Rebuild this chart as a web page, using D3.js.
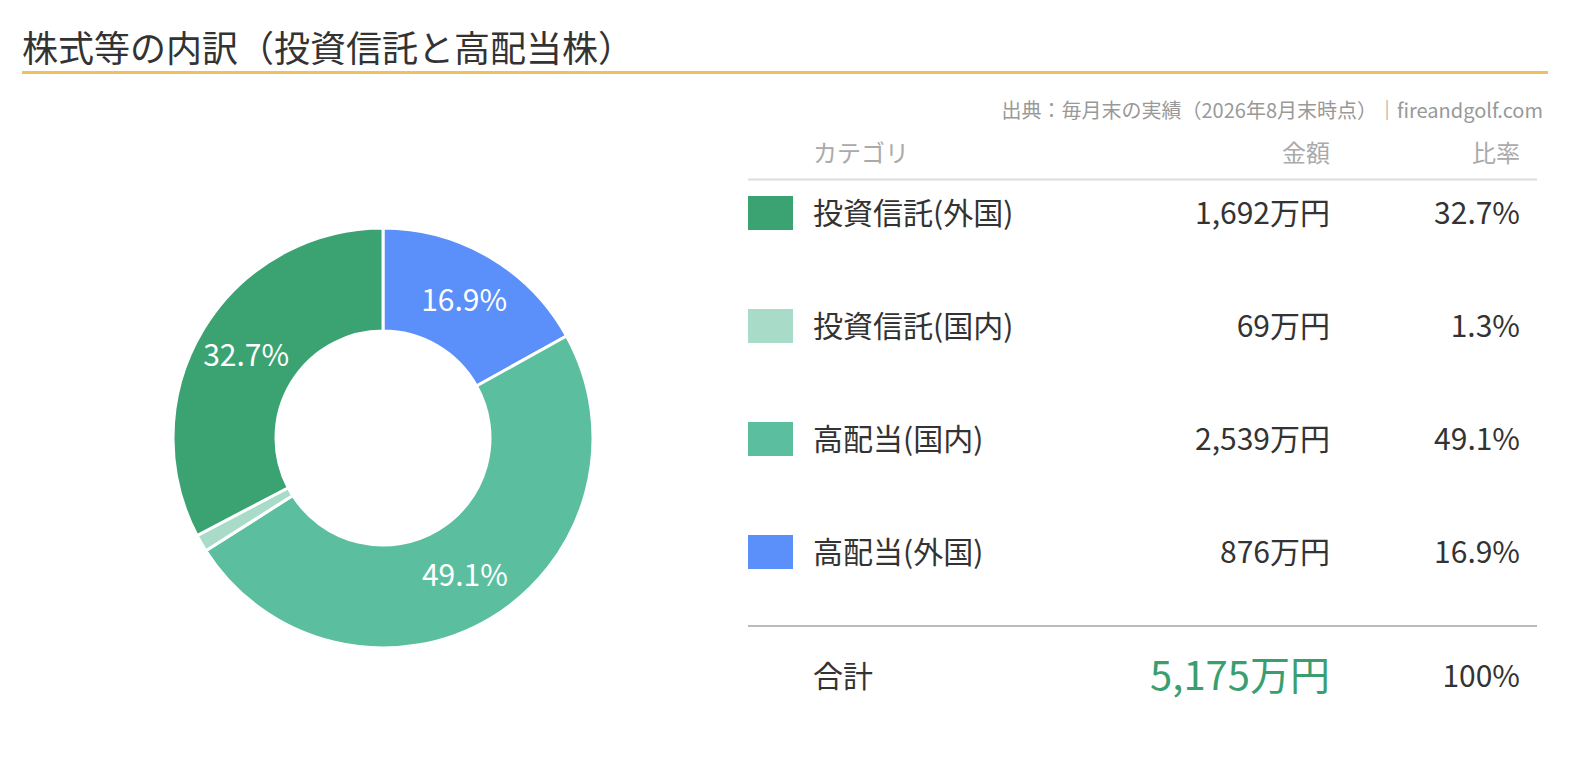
<!DOCTYPE html>
<html><head><meta charset="utf-8">
<script src="https://cdn.jsdelivr.net/npm/d3@7"></script>
<style>body{margin:0;background:#fff;font-family:"Noto Sans CJK JP","Noto Sans",sans-serif}</style>
</head><body><svg id="c" width="1590" height="780"></svg>
<script>
const categories=["投資信託(外国)","投資信託(国内)","高配当(国内)","高配当(外国)"];
const amounts=[1692,69,2539,876];
const amountLabels=["1,692万円","69万円","2,539万円","876万円"];
const shares=["32.7%","1.3%","49.1%","16.9%"];
const colors=["#3ba272","#a8dcc9","#5bbf9f","#5b8ff9"];
const pieOrder=[3,2,1,0];
const totalLabel="5,175万円";

const svg=d3.select("#c");
svg.append("text").attr("x",22).attr("y",62).attr("font-size",36).attr("fill","#333").text("株式等の内訳（投資信託と高配当株）");
svg.append("line").attr("x1",22).attr("x2",1548).attr("y1",72.5).attr("y2",72.5).attr("stroke","#f0c060").attr("stroke-width",3);
svg.append("text").attr("x",1543).attr("y",118).attr("text-anchor","end").attr("font-size",20).attr("fill","#999").text("出典：毎月末の実績（2026年8月末時点）｜fireandgolf.com");

const g=svg.append("g").attr("transform","translate(383,438)");
const pie=d3.pie().sort(null).value(i=>amounts[i]);
const arcs=pie(pieOrder);
const arc=d3.arc().innerRadius(107).outerRadius(210);
g.selectAll("path").data(arcs).join("path").attr("d",arc).attr("fill",d=>colors[d.data]).attr("stroke","#fff").attr("stroke-width",3);
const la=d3.arc().innerRadius(160).outerRadius(160);
g.selectAll("text").data(arcs.filter(d=>amounts[d.data]>100)).join("text")
 .attr("transform",d=>`translate(${la.centroid(d)})`).attr("text-anchor","middle").attr("dy","0.35em")
 .attr("font-size",30).attr("fill","#fff").text(d=>shares[d.data]);

const y=d3.scalePoint().domain(categories).range([213,552]);
svg.append("text").attr("x",813).attr("y",162).attr("font-size",24).attr("fill","#aaa").text("カテゴリ");
svg.append("text").attr("x",1330).attr("y",162).attr("text-anchor","end").attr("font-size",24).attr("fill","#aaa").text("金額");
svg.append("text").attr("x",1520).attr("y",162).attr("text-anchor","end").attr("font-size",24).attr("fill","#aaa").text("比率");
svg.append("line").attr("x1",748).attr("x2",1537).attr("y1",179.5).attr("y2",179.5).attr("stroke","#ddd").attr("stroke-width",2);
categories.forEach((c,i)=>{
 const yy=y(c);
 svg.append("rect").attr("x",748).attr("y",yy-17).attr("width",45).attr("height",34).attr("fill",colors[i]);
 svg.append("text").attr("x",813).attr("y",yy).attr("dy","0.35em").attr("font-size",30).attr("fill","#333").text(c);
 svg.append("text").attr("x",1330).attr("y",yy).attr("dy","0.35em").attr("text-anchor","end").attr("font-size",30).attr("fill","#333").text(amountLabels[i]);
 svg.append("text").attr("x",1520).attr("y",yy).attr("dy","0.35em").attr("text-anchor","end").attr("font-size",30).attr("fill","#333").text(shares[i]);
});
svg.append("line").attr("x1",748).attr("x2",1537).attr("y1",626).attr("y2",626).attr("stroke","#bbb").attr("stroke-width",2);
svg.append("text").attr("x",813).attr("y",676).attr("dy","0.35em").attr("font-size",30).attr("fill","#333").text("合計");
svg.append("text").attr("x",1330).attr("y",676).attr("dy","0.35em").attr("text-anchor","end").attr("font-size",40).attr("fill","#3a9e6e").text(totalLabel);
svg.append("text").attr("x",1520).attr("y",676).attr("dy","0.35em").attr("text-anchor","end").attr("font-size",30).attr("fill","#333").text("100%");
</script></body></html>
